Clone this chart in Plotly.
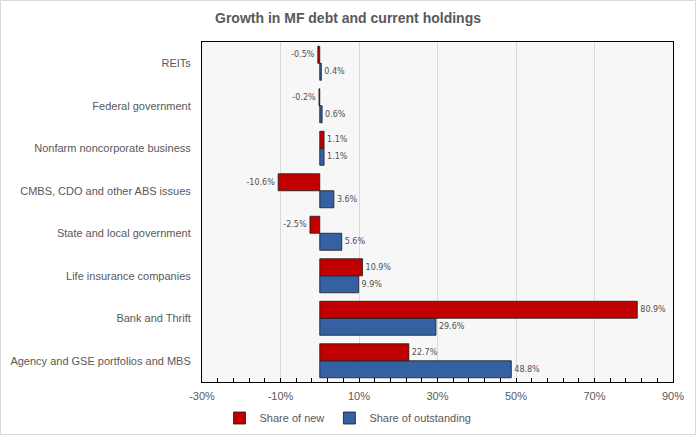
import plotly.graph_objects as go

categories = [
    "Agency and GSE portfolios and MBS",
    "Bank and Thrift",
    "Life insurance companies",
    "State and local government",
    "CMBS, CDO and other ABS issues",
    "Nonfarm noncorporate business",
    "Federal government",
    "REITs",
]
share_new = [22.7, 80.9, 10.9, -2.5, -10.6, 1.1, -0.2, -0.5]
share_outstanding = [48.8, 29.6, 9.9, 5.6, 3.6, 1.1, 0.6, 0.4]
x_ticks = [-30, -10, 10, 30, 50, 70, 90]
x_tick_labels = [f"{t}%" for t in x_ticks]

W, H = 696, 435
ml, mr, mt, mb = 202, 23, 42, 53

label_font = dict(family="DejaVu Sans", size=8, color="#505050")

fig = go.Figure()
fig.add_trace(go.Bar(
    y=categories, x=share_outstanding, orientation="h", name="Share of outstanding",
    marker=dict(color="#3560A2", line=dict(color="#1a1a1a", width=0.8)),
    text=[f"{v:.1f}%" for v in share_outstanding], textposition="outside",
    textfont=label_font, cliponaxis=False, legendrank=2,
))
fig.add_trace(go.Bar(
    y=categories, x=share_new, orientation="h", name="Share of new",
    marker=dict(color="#C00000", line=dict(color="#1a1a1a", width=0.8)),
    text=[f"{v:.1f}%" for v in share_new], textposition="outside",
    textfont=label_font, cliponaxis=False, legendrank=1,
))

pw = W - ml - mr
ph = H - mt - mb
fig.update_layout(
    width=W, height=H,
    margin=dict(l=ml, r=mr, t=mt, b=mb, autoexpand=False),
    paper_bgcolor="white", plot_bgcolor="#F7F7F7",
    barmode="group", bargap=0.2, bargroupgap=0,
    font=dict(family="Liberation Sans", size=11, color="#595959"),
    title=dict(text="<b>Growth in MF debt and current holdings</b>", x=0.5, xref="container",
               y=1 - 18 / H, yref="container", yanchor="middle",
               font=dict(family="Liberation Sans", size=14, color="#595959")),
    xaxis=dict(range=[-30, 90], tickvals=x_ticks, ticktext=x_tick_labels, automargin=False,
               showgrid=True, gridcolor="#D9D9D9", gridwidth=1, zeroline=False,
               showline=True, linecolor="black", linewidth=1, mirror=True,
               ticks="inside", ticklen=4, tickcolor="black", ticklabelstandoff=4,
               minor=dict(tick0=-30, dtick=4, ticks="inside", ticklen=4, tickcolor="black", showgrid=False),
               tickfont=dict(family="Liberation Sans", size=11, color="#595959")),
    yaxis=dict(type="category", categoryorder="array", categoryarray=categories, automargin=False,
               showline=True, linecolor="black", linewidth=1, mirror=True,
               ticks="", showgrid=False, ticklabelstandoff=8,
               tickfont=dict(family="Liberation Sans", size=11, color="#595959")),
    yaxis2=dict(overlaying="y", anchor="free", position=30 / 120, range=[-0.5, len(categories) - 0.5],
                tick0=-0.5, dtick=1, ticks="outside", ticklen=4, tickcolor="black", automargin=False,
                showticklabels=False, showgrid=False, zeroline=False,
                showline=True, linecolor="black", linewidth=1),
    yaxis3=dict(overlaying="y", anchor="free", position=30 / 120, range=[-0.5, len(categories) - 0.5],
                tick0=-0.5, dtick=1, ticks="inside", ticklen=4, tickcolor="black", automargin=False,
                showticklabels=False, showgrid=False, zeroline=False, showline=False),
    legend=dict(orientation="h", x=0.5, xref="container", xanchor="center",
                y=1 - 418 / H, yref="container", yanchor="middle",
                font=dict(family="Liberation Sans", size=11, color="#595959"),
                itemwidth=30, entrywidth=0, traceorder="normal", tracegroupgap=0),
    shapes=[dict(type="rect", xref="paper", yref="paper",
                 x0=-ml / pw + 0.5 / pw, x1=1 + mr / pw - 0.5 / pw,
                 y0=-mb / ph + 0.5 / ph, y1=1 + mt / ph - 0.5 / ph,
                 line=dict(color="#D9D9D9", width=1), layer="below")],
)
fig.write_html("out.html", config={"displayModeBar": False},
               post_script="document.body.style.margin='0';document.body.style.overflow='hidden';")
